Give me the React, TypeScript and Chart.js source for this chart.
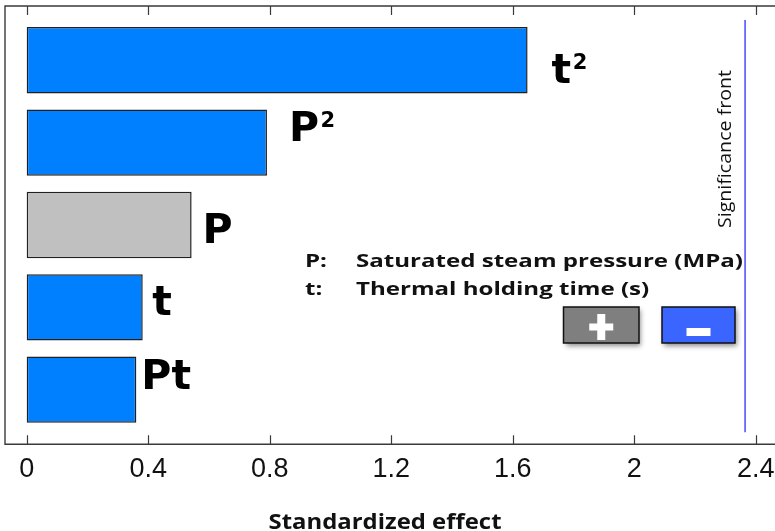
import React, { useEffect, useRef } from 'react';
import { Chart, registerables } from 'chart.js';

Chart.register(...registerables);

// ---- data ----
const FACTORS = ['t²', 'P²', 'P', 't', 'Pt'];
const EFFECTS = [1.649, 0.791, 0.543, 0.382, 0.361];
const SIGNS = ['-', '-', '+', '-', '-'];
const X_TICKS = [0, 0.4, 0.8, 1.2, 1.6, 2, 2.4];
const X_TICK_LABELS = ['0', '0.4', '0.8', '1.2', '1.6', '2', '2.4'];
const SIGNIFICANCE = 2.365;
const X_TITLE = 'Standardized effect';
const SIG_LABEL = 'Significance front';
const LEGEND_KEYS = ['P:', 't:'];
const LEGEND_DESCS = ['Saturated steam pressure (MPa)', 'Thermal holding time (s)'];
const SIGN_SYMBOLS = ['+', '-'];

// ---- styling ----
const BLUE = '#0080ff';
const GRAY = '#c0c0c0';
const LABEL_OFFSETS = [
  [24, 23],
  [22, -1.3],
  [10.8, 17.7],
  [9.5, 8],
  [5, -0.7],
];

function fitText(ctx: CanvasRenderingContext2D, text: string, x: number, y: number, width: number) {
  const w = ctx.measureText(text).width;
  const sx = width / w;
  ctx.save();
  ctx.translate(x, y);
  ctx.scale(sx, 1);
  ctx.fillText(text, 0, 0);
  ctx.restore();
  return sx;
}

const decor = {
  id: 'decor',
  afterDraw(chart: any) {
    const { ctx, chartArea: a, scales } = chart;
    const x = scales.x;
    ctx.save();

    // frame
    ctx.strokeStyle = '#3a3a3a';
    ctx.lineWidth = 1.4;
    ctx.beginPath();
    ctx.moveTo(a.right, a.top);
    ctx.lineTo(a.left, a.top);
    ctx.lineTo(a.left, a.bottom);
    ctx.lineTo(a.right, a.bottom);
    ctx.stroke();

    // inward tick marks top & bottom
    ctx.lineWidth = 1.2;
    X_TICKS.forEach((v) => {
      const px = Math.round(x.getPixelForValue(v)) + 0.5;
      ctx.beginPath();
      ctx.moveTo(px, a.bottom);
      ctx.lineTo(px, a.bottom - 9);
      ctx.moveTo(px, a.top);
      ctx.lineTo(px, a.top + 9);
      ctx.stroke();
    });

    // significance front
    const sx = x.getPixelForValue(SIGNIFICANCE);
    ctx.strokeStyle = '#4848ff';
    ctx.lineWidth = 1.5;
    ctx.beginPath();
    ctx.moveTo(sx, a.top + 14);
    ctx.lineTo(sx, a.bottom - 12);
    ctx.stroke();

    ctx.fillStyle = '#111';
    ctx.font = '19px "Open Sans"';
    ctx.textBaseline = 'alphabetic';
    ctx.textAlign = 'left';
    ctx.save();
    ctx.translate(sx - 14, a.top + 222);
    ctx.rotate(-Math.PI / 2);
    fitText(ctx, SIG_LABEL, 0, 0, 158);
    ctx.restore();

    // factor labels next to bars
    const meta = chart.getDatasetMeta(0);
    meta.data.forEach((el: any, i: number) => {
      const [dx, dy] = LABEL_OFFSETS[i];
      const parts = FACTORS[i].split('²');
      const base = parts[0];
      const hasSup = FACTORS[i].includes('²');
      const tx = el.x + dx;
      const ty = el.y + dy;
      ctx.fillStyle = '#000';
      ctx.font = 'bold 41px "DejaVu Sans"';
      ctx.fillText(base, tx, ty);
      if (hasSup) {
        const w = ctx.measureText(base).width;
        ctx.font = 'bold 21px "DejaVu Sans"';
        ctx.fillText('2', tx + w + 1.5, ty - 14.5);
      }
    });

    // legend text
    ctx.fillStyle = '#111';
    ctx.font = 'bold 18px "Open Sans"';
    const sxLegend = 387 / ctx.measureText(LEGEND_DESCS[0]).width;
    LEGEND_KEYS.forEach((k, i) => {
      const by = 266.5 + i * 28.5;
      ctx.save();
      ctx.translate(305, by);
      ctx.scale(sxLegend, 1);
      ctx.fillText(k, 0, 0);
      ctx.restore();
      ctx.save();
      ctx.translate(356, by);
      ctx.scale(sxLegend, 1);
      ctx.fillText(LEGEND_DESCS[i], 0, 0);
      ctx.restore();
    });

    // sign boxes
    const boxes = [
      { x: 563.5, y: 307, w: 75.5, h: 36, fill: '#7f7f7f', sym: SIGN_SYMBOLS[0] },
      { x: 662, y: 307, w: 73, h: 36, fill: '#3a66ff', sym: SIGN_SYMBOLS[1] },
    ];
    boxes.forEach((b) => {
      ctx.save();
      ctx.shadowColor = 'rgba(0,0,0,0.45)';
      ctx.shadowBlur = 5;
      ctx.shadowOffsetX = 2;
      ctx.shadowOffsetY = 3;
      ctx.fillStyle = b.fill;
      ctx.fillRect(b.x, b.y, b.w, b.h);
      ctx.restore();
      ctx.strokeStyle = '#111';
      ctx.lineWidth = 1.5;
      ctx.strokeRect(b.x, b.y, b.w, b.h);
      ctx.fillStyle = '#fff';
      const cx = b.x + b.w / 2;
      if (b.sym === '+') {
        const cy = b.y + 20;
        ctx.fillRect(cx - 12, cy - 3.5, 24, 7);
        ctx.fillRect(cx - 4, cy - 13, 8, 26);
      } else {
        const cy = b.y + 25;
        ctx.fillRect(cx - 12, cy - 4, 24, 8);
      }
    });

    // x-axis title
    ctx.fillStyle = '#111';
    ctx.font = 'bold 21px "Open Sans"';
    fitText(ctx, X_TITLE, 268.5, 529, 233);

    ctx.restore();
  },
};

export default function App() {
  const ref = useRef<HTMLCanvasElement | null>(null);

  useEffect(() => {
    document.body.style.margin = '0';
    const canvas = ref.current;
    if (!canvas) return;
    const chart = new Chart(canvas, {
      type: 'bar',
      data: {
        datasets: [
          {
            data: EFFECTS.map((v, i) => ({ x: v, y: i })),
            backgroundColor: SIGNS.map((s) => (s === '+' ? GRAY : BLUE)),
            borderColor: '#202020',
            borderWidth: 1.5,
            borderSkipped: false,
            barPercentage: 0.805,
            categoryPercentage: 1,
          },
        ],
      } as any,
      options: {
        indexAxis: 'y',
        animation: false,
        responsive: false,
        maintainAspectRatio: false,
        layout: { padding: { left: 5, right: 0, top: 6, bottom: 35.3 } },
        plugins: { legend: { display: false }, tooltip: { enabled: false } },
        scales: {
          x: {
            type: 'linear',
            position: 'bottom',
            min: -0.0714,
            max: 2.4635,
            grid: { display: false, drawTicks: false },
            border: { display: false },
            afterBuildTicks: (s: any) => {
              s.ticks = X_TICKS.map((v) => ({ value: v }));
            },
            ticks: {
              padding: 0,
              color: '#111',
              autoSkip: false,
              maxRotation: 0,
              font: { family: '"Liberation Sans", Arial', size: 27, lineHeight: '51.4px' },
              callback: (_v: any, i: number) => X_TICK_LABELS[i],
            },
          },
          y: {
            type: 'linear',
            display: false,
            offset: false,
            reverse: true,
            min: -0.659,
            max: 4.663,
            afterBuildTicks: (s: any) => {
              s.ticks = FACTORS.map((_f, i) => ({ value: i }));
            },
          },
        },
      } as any,
      plugins: [decor],
    });
    return () => chart.destroy();
  }, []);

  return <canvas ref={ref} width={775} height={531} style={{ display: 'block' }} />;
}
